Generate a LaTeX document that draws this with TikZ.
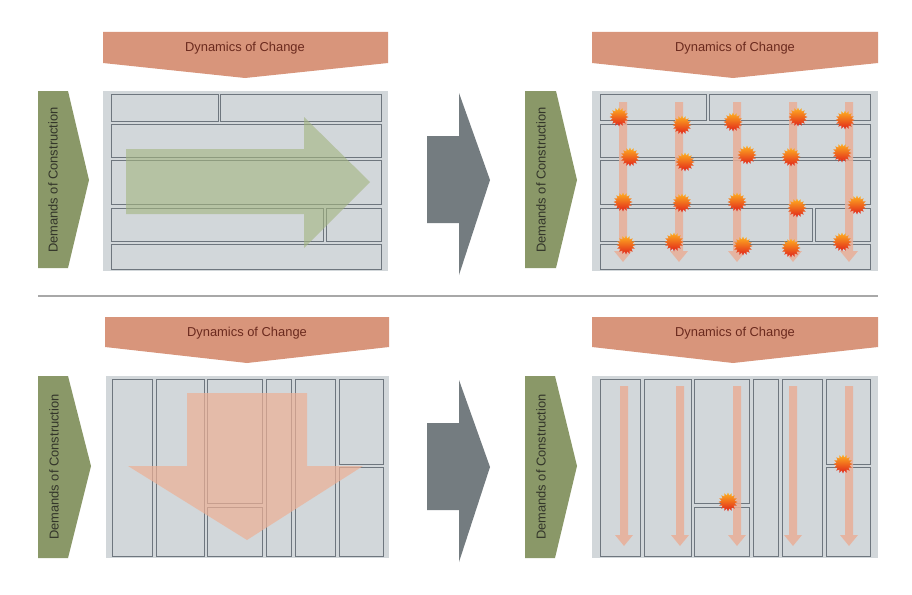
\documentclass[tikz,border=0pt]{standalone}
\usepackage{fontspec}
\setmainfont{Liberation Sans}
\usetikzlibrary{shapes.geometric}
\definecolor{panelgray}{HTML}{D2D7DA}
\definecolor{cellline}{HTML}{6E767E}
\definecolor{salmon}{HTML}{D8957B}
\definecolor{bannertext}{HTML}{6B2A1E}
\definecolor{olivegreen}{HTML}{8A9868}
\definecolor{olivetext}{HTML}{33352A}
\definecolor{arrowgray}{HTML}{747C80}
\definecolor{greenarrow}{HTML}{A3B47F}
\definecolor{orangearrow}{HTML}{EDB095}
\definecolor{flowor}{HTML}{E9AF98}
\definecolor{sepline}{HTML}{A8A8A8}
\definecolor{boomtop}{HTML}{FFB020}
\definecolor{boommid}{HTML}{FF7A10}
\definecolor{boombot}{HTML}{E0201A}
\newcommand{\vflowarrow}[3]{%
  \fill[flowarrow] (#1-4,#2) -- (#1+4,#2) -- (#1+4,#3-11) -- (#1+9,#3-11) -- (#1,#3) -- (#1-9,#3-11) -- (#1-4,#3-11) -- cycle;}
\begin{document}
\begin{tikzpicture}[x=1pt,y=-1pt,
  panel/.style={fill=panelgray},
  cell/.style={draw=cellline,line width=0.9pt},
  banner/.style={fill=salmon},
  chevron/.style={fill=olivegreen},
  bigarrow/.style={fill=arrowgray},
  flowarrow/.style={fill=flowor,opacity=0.85},
  bannerlabel/.style={text=bannertext,font=\fontsize{12.9}{15}\selectfont,inner sep=0},
  chevlabel/.style={text=olivetext,font=\fontsize{12.9}{15}\selectfont,rotate=90,inner sep=0},
  boom/.style={star,star points=16,star point ratio=1.45,minimum size=19pt,inner sep=0,
    shading=axis,top color=boomtop,middle color=boommid,bottom color=boombot}]
\useasboundingbox (0,0) rectangle (912,594);
\fill[white] (0,0) rectangle (912,594);

% ================= TOP LEFT =================
\fill[banner] (103,32) -- (388,32) -- (388,63) -- (245,78) -- (103,63) -- cycle;
\node[bannerlabel] (tlbanner) at (245,48) {Dynamics of Change};
\fill[chevron] (38,91) -- (68,91) -- (89,180) -- (68,268) -- (38,268) -- cycle;
\node[chevlabel] (tlchev) at (53,180) {Demands of Construction};
\fill[panel] (103,91) rectangle (388,271);
\draw[cell] (111,94) rectangle (218,121);
\draw[cell] (220,94) rectangle (381,121);
\draw[cell] (111,124) rectangle (381,157);
\draw[cell] (111,160) rectangle (381,204);
\draw[cell] (111,208) rectangle (323,241);
\draw[cell] (326,208) rectangle (381,241);
\draw[cell] (111,244) rectangle (381,269);
\fill[greenarrow,opacity=0.6] (126,149) -- (304,149) -- (304,117) -- (370,182) -- (304,248) -- (304,214) -- (126,214) -- cycle;

% middle gray arrow top
\fill[bigarrow] (427,136) -- (459,136) -- (459,93) -- (490,180) -- (459,275) -- (459,223) -- (427,223) -- cycle;

% ================= TOP RIGHT =================
\fill[banner] (592,32) -- (878,32) -- (878,63) -- (733,78) -- (592,63) -- cycle;
\node[bannerlabel] (trbanner) at (735,48) {Dynamics of Change};
\fill[chevron] (525,91) -- (556,91) -- (577,180) -- (556,268) -- (525,268) -- cycle;
\node[chevlabel] (trchev) at (541,180) {Demands of Construction};
\fill[panel] (592,91) rectangle (878,271);
\draw[cell] (600,94) rectangle (706,120);
\draw[cell] (709,94) rectangle (870,120);
\draw[cell] (600,124) rectangle (870,157);
\draw[cell] (600,160) rectangle (870,204);
\draw[cell] (600,208) rectangle (812,241);
\draw[cell] (815,208) rectangle (870,241);
\draw[cell] (600,244) rectangle (870,269);
\vflowarrow{623}{102}{262}
\vflowarrow{679}{102}{262}
\vflowarrow{737}{102}{262}
\vflowarrow{793}{102}{262}
\vflowarrow{849}{102}{262}
\node[boom] (s1) at (619,117) {};
\node[boom] (s2) at (682,125) {};
\node[boom] (s3) at (733,122) {};
\node[boom] (s4) at (798,117) {};
\node[boom] (s5) at (845,120) {};
\node[boom] (s6) at (630,157) {};
\node[boom] (s7) at (685,162) {};
\node[boom] (s8) at (747,155) {};
\node[boom] (s9) at (791,157) {};
\node[boom] (s10) at (842,153) {};
\node[boom] (s11) at (623,202) {};
\node[boom] (s12) at (682,203) {};
\node[boom] (s13) at (737,202) {};
\node[boom] (s14) at (797,208) {};
\node[boom] (s15) at (857,205) {};
\node[boom] (s16) at (626,245) {};
\node[boom] (s17) at (674,242) {};
\node[boom] (s18) at (743,246) {};
\node[boom] (s19) at (791,248) {};
\node[boom] (s20) at (842,242) {};

% separator
\draw[sepline,line width=1.3pt] (38,296) -- (878,296);

% ================= BOTTOM LEFT =================
\fill[banner] (105,317) -- (389,317) -- (389,347) -- (247,363) -- (105,347) -- cycle;
\node[bannerlabel] (blbanner) at (247,333) {Dynamics of Change};
\fill[chevron] (38,376) -- (68,376) -- (91,466) -- (68,558) -- (38,558) -- cycle;
\node[chevlabel] (blchev) at (54,467) {Demands of Construction};
\fill[panel] (106,376) rectangle (389,558);
\draw[cell] (112,379) rectangle (152,556);
\draw[cell] (156,379) rectangle (204,556);
\draw[cell] (207,379) rectangle (262,503);
\draw[cell] (207,507) rectangle (262,556);
\draw[cell] (266,379) rectangle (291,556);
\draw[cell] (295,379) rectangle (335,556);
\draw[cell] (339,379) rectangle (383,464);
\draw[cell] (339,467) rectangle (383,556);
\fill[orangearrow,opacity=0.7] (187,393) -- (307,393) -- (307,466) -- (363,466) -- (247,540) -- (128,466) -- (187,466) -- cycle;

% middle gray arrow bottom
\fill[bigarrow] (427,423) -- (459,423) -- (459,380) -- (490,467) -- (459,562) -- (459,510) -- (427,510) -- cycle;

% ================= BOTTOM RIGHT =================
\fill[banner] (592,317) -- (878,317) -- (878,347) -- (733,363) -- (592,347) -- cycle;
\node[bannerlabel] (brbanner) at (735,333) {Dynamics of Change};
\fill[chevron] (525,376) -- (555,376) -- (577,466) -- (555,558) -- (525,558) -- cycle;
\node[chevlabel] (brchev) at (541,467) {Demands of Construction};
\fill[panel] (592,376) rectangle (878,558);
\draw[cell] (600,379) rectangle (640,556);
\draw[cell] (644,379) rectangle (691,556);
\draw[cell] (694,379) rectangle (749,503);
\draw[cell] (694,507) rectangle (749,556);
\draw[cell] (753,379) rectangle (778,556);
\draw[cell] (782,379) rectangle (822,556);
\draw[cell] (826,379) rectangle (870,464);
\draw[cell] (826,467) rectangle (870,556);
\vflowarrow{624}{386}{546}
\vflowarrow{680}{386}{546}
\vflowarrow{737}{386}{546}
\vflowarrow{793}{386}{546}
\vflowarrow{849}{386}{546}
\node[boom] (s21) at (728,502) {};
\node[boom] (s22) at (843,464) {};
\end{tikzpicture}
\end{document}
